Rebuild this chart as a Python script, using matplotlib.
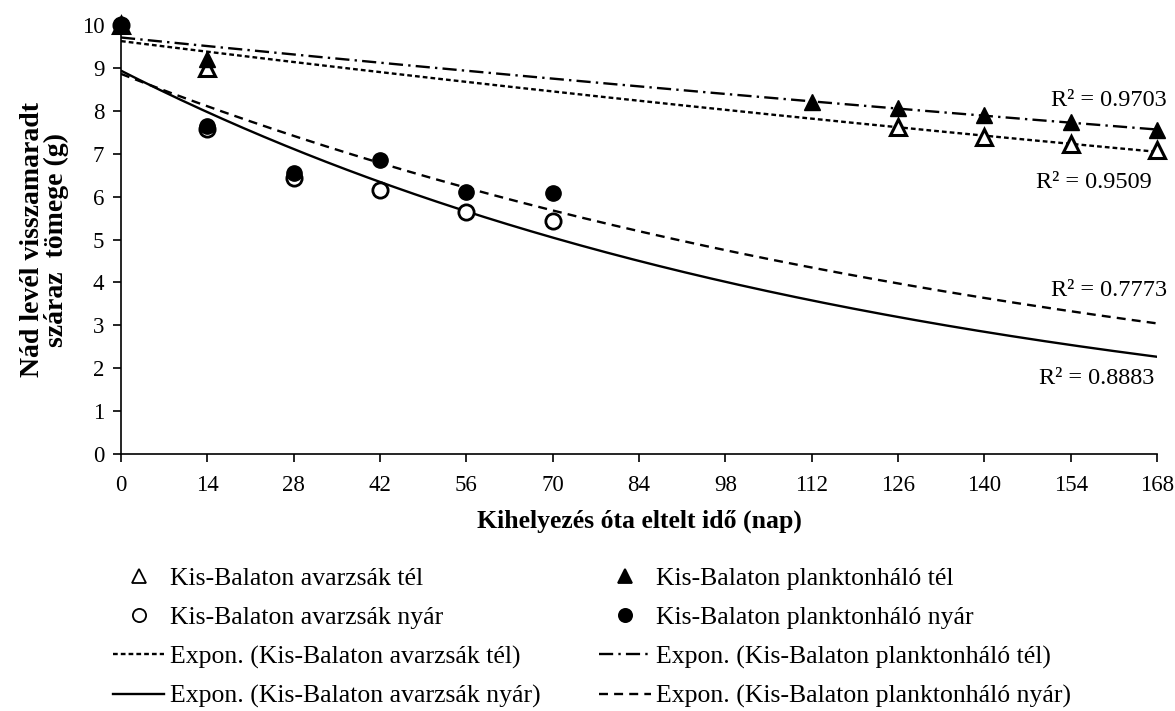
import numpy as np
import matplotlib
matplotlib.use("Agg")
import matplotlib.pyplot as plt
from matplotlib.lines import Line2D

plt.rcParams['font.family'] = ['Liberation Serif', 'DejaVu Serif']

# ---- data ----
days_x_ticks = [0, 14, 28, 42, 56, 70, 84, 98, 112, 126, 140, 154, 168]

avar_tel_x = [0, 14, 126, 140, 154, 168]
avar_tel_y = [10.0, 9.0, 7.62, 7.39, 7.23, 7.09]

plank_tel_x = [0, 14, 112, 126, 140, 154, 168]
plank_tel_y = [10.0, 9.2, 8.21, 8.07, 7.9, 7.74, 7.55]

avar_nyar_x = [0, 14, 28, 42, 56, 70]
avar_nyar_y = [10.0, 7.58, 6.44, 6.15, 5.63, 5.42]

plank_nyar_x = [0, 14, 28, 42, 56, 70]
plank_nyar_y = [10.0, 7.65, 6.54, 6.85, 6.11, 6.08]

r2_labels = ["R² = 0.9703", "R² = 0.9509", "R² = 0.7773", "R² = 0.8883"]

lab_avar_tel = "Kis-Balaton avarzsák tél"
lab_plank_tel = "Kis-Balaton planktonháló tél"
lab_avar_nyar = "Kis-Balaton avarzsák nyár"
lab_plank_nyar = "Kis-Balaton planktonháló nyár"

# ---- figure ----
W, H = 1175, 711
fig = plt.figure(figsize=(W / 100, H / 100), dpi=100)
ax = fig.add_axes([121 / W, 1 - 454 / H, (1157 - 121) / W, (454 - 25) / H])


def expfit(x, y):
    b, lna = np.polyfit(np.asarray(x, float), np.log(np.asarray(y, float)), 1)
    return np.exp(lna), b


xx = np.linspace(0, 168, 400)
lw = 1.7
styles = {
    'avar_tel': dict(color='black', lw=lw, dashes=(2.0, 1.3)),
    'plank_tel': dict(color='black', lw=lw, dashes=(6.0, 2.2, 1.0, 2.2)),
    'avar_nyar': dict(color='black', lw=lw, linestyle='-'),
    'plank_nyar': dict(color='black', lw=lw, dashes=(3.8, 2.6)),
}
series = {
    'avar_tel': (avar_tel_x, avar_tel_y),
    'plank_tel': (plank_tel_x, plank_tel_y),
    'avar_nyar': (avar_nyar_x, avar_nyar_y),
    'plank_nyar': (plank_nyar_x, plank_nyar_y),
}
for key, (x, y) in series.items():
    a, b = expfit(x, y)
    ax.plot(xx, a * np.exp(b * xx), zorder=2, **styles[key])

ms_t, ms_c = 12, 11
ax.plot(avar_tel_x, avar_tel_y, linestyle='none', marker='^', ms=ms_t,
        mfc='white', mec='black', mew=2.2, clip_on=False, zorder=3)
ax.plot(avar_nyar_x, avar_nyar_y, linestyle='none', marker='o', ms=ms_c,
        mfc='white', mec='black', mew=2, clip_on=False, zorder=3)
ax.plot(plank_tel_x, plank_tel_y, linestyle='none', marker='^', ms=ms_t,
        mfc='black', mec='black', mew=1, clip_on=False, zorder=4)
ax.plot(plank_nyar_x, plank_nyar_y, linestyle='none', marker='o', ms=ms_c,
        mfc='black', mec='black', mew=1, clip_on=False, zorder=4)

ax.set_xlim(0, 168)
ax.set_ylim(0, 10)
ax.set_xticks(days_x_ticks)
ax.set_yticks(range(0, 11))
for s in ['top', 'right']:
    ax.spines[s].set_visible(False)
for s in ['left', 'bottom']:
    ax.spines[s].set_linewidth(1.2)
ax.tick_params(axis='x', direction='out', length=6, width=1.2, labelsize=16.5, pad=9)
ax.tick_params(axis='y', direction='out', length=6, width=1.2, labelsize=16.5, pad=6)

ax.set_xlabel("Kihelyezés óta eltelt idő (nap)", fontsize=18.5, fontweight='bold', labelpad=10)
ax.set_ylabel("Nád levél visszamaradt\nszáraz  tömege (g)", fontsize=20,
              fontweight='bold', labelpad=9, linespacing=0.95)

fs_r2 = 17.5
ax.text(169.6, 8.25, r2_labels[0], ha='right', va='center', fontsize=fs_r2)
ax.text(167.2, 6.32, r2_labels[1], ha='right', va='center', fontsize=fs_r2)
ax.text(169.6, 3.82, r2_labels[2], ha='right', va='center', fontsize=fs_r2)
ax.text(167.5, 1.77, r2_labels[3], ha='right', va='center', fontsize=fs_r2)

# legend
def mk(marker, filled):
    return Line2D([], [], linestyle='none', marker=marker, ms=9.5,
                  mfc='black' if filled else 'white', mec='black', mew=1.3)

handles = [mk('^', False), mk('o', False),
           Line2D([], [], **styles['avar_tel']), Line2D([], [], **styles['avar_nyar']),
           mk('^', True), mk('o', True),
           Line2D([], [], **styles['plank_tel']), Line2D([], [], **styles['plank_nyar'])]
labels = [lab_avar_tel, lab_avar_nyar,
          "Expon. (" + lab_avar_tel + ")", "Expon. (" + lab_avar_nyar + ")",
          lab_plank_tel, lab_plank_nyar,
          "Expon. (" + lab_plank_tel + ")", "Expon. (" + lab_plank_nyar + ")"]
fig.legend(handles, labels, ncol=2, loc='upper left', bbox_to_anchor=(113 / W, 1 - 567 / H),
           frameon=False, fontsize=18.5, handlelength=2.0, handletextpad=0.2,
           labelspacing=0.63, columnspacing=2.3, borderaxespad=0, borderpad=0)

fig.savefig("out.png", dpi=100)
